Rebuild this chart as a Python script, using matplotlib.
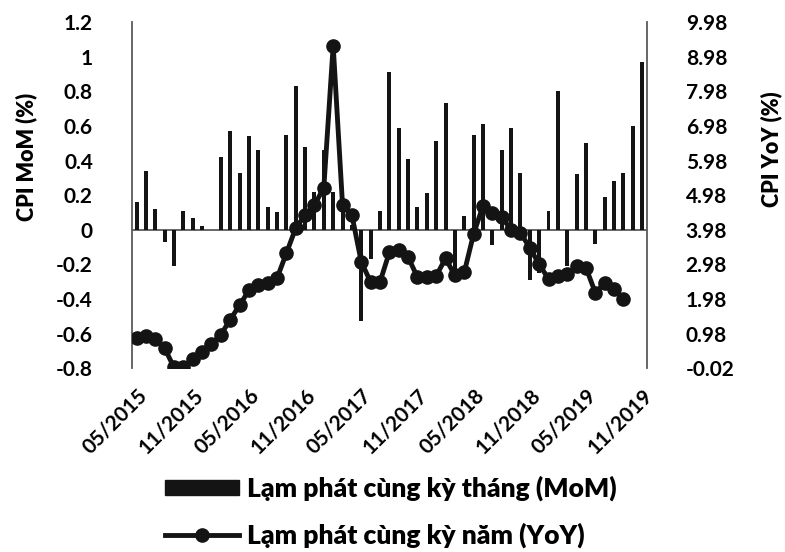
import matplotlib
matplotlib.use("Agg")
import matplotlib.pyplot as plt
from matplotlib.ticker import FixedLocator, FuncFormatter
from matplotlib.patches import Patch
from matplotlib.lines import Line2D
import numpy as np

plt.rcParams['font.family'] = ['Lato', 'Noto Sans', 'DejaVu Sans']
plt.rcParams['font.weight'] = 'bold'

# thang 05/2015 -> 11/2019
months = []
for y in range(2015, 2020):
    for m in range(1, 13):
        if (y, m) >= (2015, 5) and (y, m) <= (2019, 11):
            months.append("%02d/%d" % (m, y))

# CPI MoM (%)
mom = [0.16, 0.34, 0.12, -0.07, -0.21, 0.11, 0.07, 0.02, 0.0, 0.42,
       0.57, 0.33, 0.54, 0.46, 0.13, 0.10, 0.55, 0.83, 0.48, 0.22,
       0.46, 0.22, 0.16, 0.03, -0.53, -0.17, 0.11, 0.91, 0.59, 0.41,
       0.13, 0.21, 0.51, 0.73, -0.25, 0.08, 0.55, 0.61, -0.09, 0.46,
       0.59, 0.33, -0.29, -0.25, 0.11, 0.80, -0.21, 0.32, 0.50, -0.08,
       0.19, 0.28, 0.33, 0.60, 0.97]

# CPI YoY (%) - khong co so lieu cho 10/2019, 11/2019
yoy = [0.85, 0.90, 0.82, 0.56, 0.0, 0.0, 0.25, 0.45, 0.68, 0.95,
       1.38, 1.80, 2.23, 2.38, 2.45, 2.58, 3.30, 4.03, 4.40, 4.69,
       5.20, 9.30, 4.69, 4.40, 3.05, 2.47, 2.47, 3.33, 3.39, 3.19,
       2.61, 2.61, 2.65, 3.15, 2.66, 2.75, 3.86, 4.67, 4.46, 4.35,
       3.98, 3.89, 3.46, 2.98, 2.56, 2.64, 2.70, 2.93, 2.88, 2.16,
       2.44, 2.26, 1.98, np.nan, np.nan]

left_ticks = [1.2, 1, 0.8, 0.6, 0.4, 0.2, 0, -0.2, -0.4, -0.6, -0.8]
right_ticks = [9.98, 8.98, 7.98, 6.98, 5.98, 4.98, 3.98, 2.98, 1.98, 0.98, -0.02]

ink = '#141414'
axis_col = '#5a5a5a'

fig = plt.figure(figsize=(7.85, 5.52), dpi=100)
ax = fig.add_axes([0.168, 0.333, 0.656, 0.627])
x = np.arange(len(months))

ax.bar(x, mom, width=0.42, color=ink, zorder=2)
ax.axhline(0, color=axis_col, lw=1.3, zorder=1)
ax.set_xlim(-0.5, len(months) - 0.5)
ax.set_ylim(-0.8, 1.2)
ax.yaxis.set_major_locator(FixedLocator(left_ticks))
ax.yaxis.set_major_formatter(FuncFormatter(lambda v, p: "%g" % round(v, 2)))
ax.tick_params(axis='y', length=0, pad=28, labelsize=15)

lab_idx = list(range(0, len(months), 6))
ax.set_xticks(lab_idx)
ax.set_xticklabels([months[i] for i in lab_idx], rotation=45, ha='right',
                   rotation_mode='anchor', fontsize=15)
ax.tick_params(axis='x', length=0, pad=12)

for s in ['top', 'bottom', 'right']:
    ax.spines[s].set_visible(False)
ax.spines['left'].set_color(axis_col)
ax.spines['left'].set_linewidth(1.3)

ax2 = ax.twinx()
ax2.plot(x, yoy, color=ink, lw=3.5, marker='o', markersize=9.5, zorder=3)
ax2.set_ylim(-0.02, 9.98)
ax2.yaxis.set_major_locator(FixedLocator(right_ticks))
ax2.yaxis.set_major_formatter(FuncFormatter(lambda v, p: "%.2f" % v))
ax2.tick_params(axis='y', length=0, pad=28, labelsize=15)
for s in ['top', 'bottom', 'left']:
    ax2.spines[s].set_visible(False)
ax2.spines['right'].set_color(axis_col)
ax2.spines['right'].set_linewidth(1.3)

fig.text(0.033, 0.715, 'CPI MoM (%)', rotation=90, ha='center', va='center',
         fontsize=15.5, fontweight='heavy')
fig.text(0.982, 0.73, 'CPI YoY (%)', rotation=90, ha='center', va='center',
         fontsize=15.5, fontweight='heavy')

handles = [Patch(facecolor=ink, edgecolor=ink),
           Line2D([0], [0], color=ink, lw=3.5, marker='o', markersize=9.5)]
labels = ['Lạm phát cùng kỳ tháng (MoM)', 'Lạm phát cùng kỳ năm (YoY)']
fig.legend(handles, labels, loc='lower left', bbox_to_anchor=(0.18, -0.036),
           frameon=False, prop={'size': 19, 'weight': 'heavy'},
           handlelength=2.8, handleheight=0.5, handletextpad=0.3,
           labelspacing=0.8)

fig.savefig('out.png', dpi=100)
